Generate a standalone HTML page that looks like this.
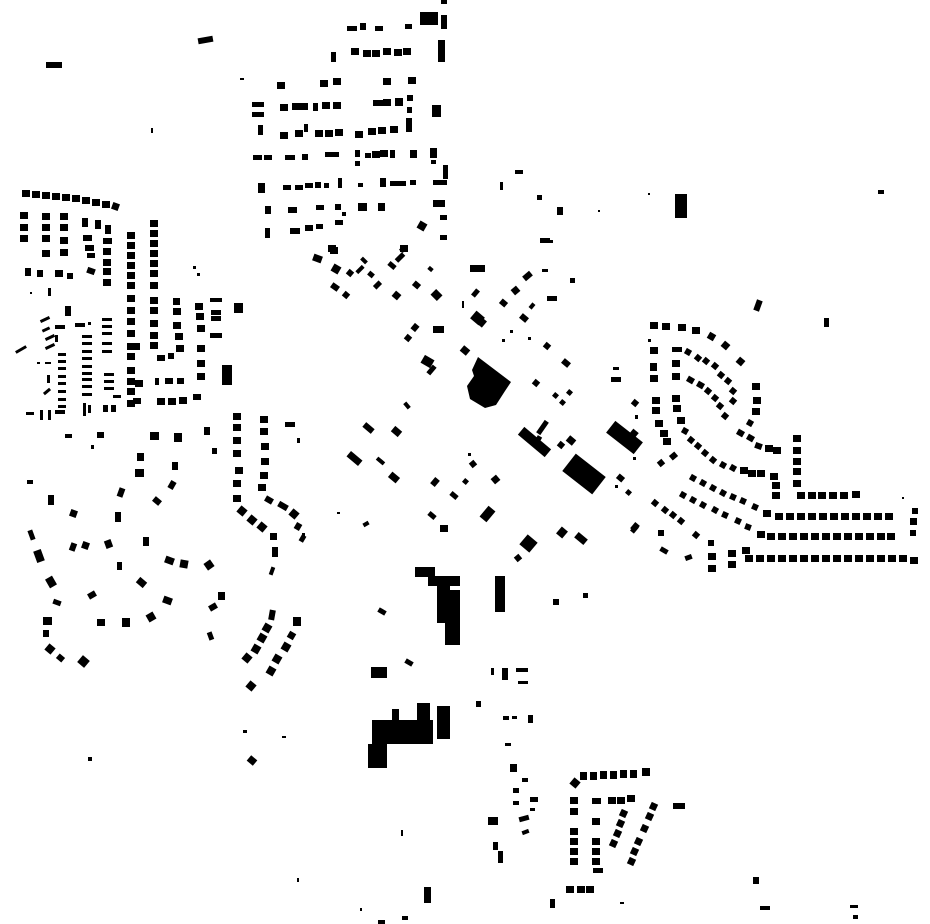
<!DOCTYPE html>
<html><head><meta charset="utf-8"><style>html,body{margin:0;padding:0;background:#fff;width:930px;height:924px;overflow:hidden}svg{display:block}</style></head>
<body>
<svg id="s" width="930" height="924" viewBox="0 0 930 924" xmlns="http://www.w3.org/2000/svg">
<rect width="930" height="924" fill="#fff"/>
<g fill="#000">
<polygon points="478,357 511,382 505,391 496,405 485,408 470,399 467,386 474,376 472,370"/>
<rect x="415" y="567" width="20" height="10"/>
<rect x="428" y="576" width="32" height="10"/>
<rect x="437" y="585" width="13" height="38"/>
<rect x="445" y="590" width="15" height="55"/>
<rect x="372" y="720" width="61" height="24"/>
<rect x="368" y="744" width="19" height="24"/>
<rect x="392" y="709" width="7" height="11"/>
<rect x="417" y="703" width="13" height="20"/>
<rect x="437" y="706" width="13" height="33"/>
</g>
<g id="g" fill="#000"></g>
</svg>
<script>
var D=[
[347,26,10,5],[360,23,6,7],[375,26,8,5],[405,24,7,5],[420,12,18,13],[441,15,6,14],[441,0,6,4],
[351,48],[363,50],[372,50],[383,48],[394,49],[403,48],[438,40,7,22],[331,52,5,10],
[320,80],[333,78],[383,78],[408,77],[277,82],[240,78,4,2],
[252,102,12,5],[252,112,12,5],[280,104],[292,103],[300,103],[313,103,5,8],[322,102],[333,102],[373,100,10,6],[383,99],[395,98,8,8],[407,95,6,6],[407,107,5,6],[432,105,9,12],
[258,125,5,10],[280,132],[295,130],[304,124,4,8],[315,130],[325,130],[335,129],[355,131],[368,128],[378,127],[390,126],[406,118,6,14],
[253,155,9,5],[264,155,8,5],[285,155,10,5],[302,154,6,6],[325,152,10,5],[333,152,6,5],[355,150,5,7],[365,153,6,5],[372,151],[380,150],[390,150,5,8],[355,161,5,5],[410,150,7,8],[430,148,7,10],[431,160,5,4],
[258,183,7,10],[283,185,8,5],[295,185,8,5],[305,183,8,5],[315,182,6,6],[324,183,5,5],[338,178,4,10],[358,183,5,4],[380,178,6,9],[390,181,10,5],[400,181,6,5],[410,180,6,5],[433,180,14,5],[443,165,5,14],
[265,206,6,8],[288,207,9,6],[316,205,8,5],[335,204,6,6],[342,212,4,4],[358,203,9,8],[378,203,7,8],[433,200,12,7],[440,215,7,5],[440,235,7,5],
[265,228,5,10],[290,228,10,6],[305,225,8,6],[316,224,7,5],[335,220,8,5],[418,222,8,8,30],[328,245],[400,245],
[313,255,9,7,20],[330,247,8,7],[332,265,8,8,30],[347,270,6,6,40],[358,265,4,9,45],[362,257,4,7,-45],[368,272,6,5,40],[375,281,5,8,45],[388,263,8,5,40],[395,255,10,5,-45],[400,247,5,5,40],[331,284,8,6,35],[343,292,6,6,40],[393,292,7,7,40],[413,282,7,6,40],[428,267,5,4,40],[432,291,9,8,45],[470,265,15,7],[473,289,5,8,40],[472,313,11,10,40],[480,319,5,8,40],[462,301,2,7],[500,300,7,6,40],[512,287,7,7,-40],[523,273,9,6,-40],[530,303,4,6,40],[520,315,8,6,40],[542,269,6,3],[547,296,10,5],[570,278,5,5],[543,240,10,3],[412,324,6,7,40],[405,335,6,6,40],[433,326,11,7],[461,347,8,7,40],[510,330,3,3],[502,339,3,3],[528,337,3,3],[544,343,6,6,40],[422,357,11,9,30],[429,365,5,10,40],[562,360,8,6,40],[613,367,6,3],[611,377,10,5],[533,380,6,6,40],[553,393,5,5,40],[560,400,5,5,40],[567,390,5,5,40],[405,402,4,7,-40],[363,425,11,6,40],[392,428,9,7,40],[540,420,5,15,35],[536,436,5,6,30],[567,437,8,7,40],[558,442,6,6,40],[632,400,6,6,40],[635,415,3,4],[630,430,7,8,40],[633,457,3,3],[347,455,15,7,40],[376,459,9,4,40],[389,474,10,7,40],[468,453,3,3],[470,461,6,6,-40],[432,478,6,8,40],[463,479,5,5,40],[492,476,7,7,-40],[450,493,8,5,40],[483,507,9,14,40],[428,513,8,5,40],[440,525,8,7],[363,522,6,4,-30],[337,512,3,2],[617,475,7,6,40],[615,485,3,3],[626,490,5,5,40],[632,525,5,8,40],[558,528,8,9,40],[575,535,12,7,40],[522,537,13,13,40],[515,555,6,6,-40],[302,533,3,3],
[517,437,35,10,40],[565,463,38,22,38],[607,430,35,15,38],
[495,576,10,36],[553,599,6,6],[583,593,5,5],[378,609,8,5,30],[405,660,8,5,30],[371,667,16,11],[491,668,3,7],[502,668,6,12],[516,668,12,4],[518,681,10,3],[476,701,5,6],[503,716,6,4],[512,716,5,3],[528,715,5,8],[505,743,6,3],[510,764,7,8],[522,778,6,4],[513,788,6,5],[530,797,8,5],[513,801,6,4],[530,808,5,3],[519,816,10,5,-15],[522,830,7,4,-20],[488,817,10,8],[493,842,5,8],[498,851,5,12],[401,830,2,6],[424,887,7,16],[550,899,5,9],[620,902,4,2],[378,920,7,4],[402,916,6,4],[360,908,2,3],
[580,772,7,8],[590,772,7,8],[600,771,7,8],[610,771,7,8],[620,770,7,8],[630,770,7,8],[642,768,8,8],[571,779,8,8,40],
[570,797],[570,808],[570,828],[570,838],[570,848],[570,858],[592,798,9,6],[592,818],[592,838],[592,848],[592,858],[593,868,10,5],[608,797],[617,797],[627,795],
[620,810,7,7,25],[617,820,7,7,25],[614,830,7,7,25],[610,840,7,7,25],[650,803,7,7,25],[646,813,7,7,25],[641,825,7,7,25],[635,838,7,7,25],[631,848,7,7,25],[628,858,7,7,25],[673,803,12,6],[566,886],[577,886],[586,886],
[26,412,8,3],[40,410,3,10],[48,410,3,10],[55,410,10,4],[83,407,3,9],[88,405,3,8],[103,405,5,7],[111,405,5,7],[135,400,6,4],[158,398,6,4],[170,398,6,4],
[65,434,7,4],[97,432,7,6],[91,445,3,4],[150,432,9,8],[174,433,8,9],[204,427,6,8],[212,448,5,6],
[233,413],[233,424],[233,437],[233,450],[235,467],[233,480],[233,495],[238,507,8,8,40],[248,516,8,8,40],[258,523,8,8,40],[270,533,7,7],[272,547,6,10],[270,567,4,8,20],
[260,416],[260,428],[261,443],[261,458],[260,472],[258,484],[265,497,8,6,30],[278,503,10,6,30],[290,510,8,8,40],[295,523,6,7,30],[300,535,5,7,30],[285,422,10,5],[297,438,3,5],
[137,453,7,8],[135,469,9,8],[172,462,6,8],[169,481,6,8,30],[153,498,8,6,40],[118,488,6,9,20],[115,512,6,10],[27,480,6,4],[48,495,6,10],[70,510,7,7,20],[29,530,5,10,-20],[35,550,8,12,-20],[47,577,8,10,-30],[70,543,6,8,20],[82,542,7,7,20],[105,540,7,8,-20],[143,537,6,9],[117,562,5,8],[165,557,9,7,20],[180,560,8,8,10],[205,561,8,8,-35],[137,579,9,7,40],[88,592,8,6,-30],[53,600,8,5,20],[163,597,9,7,20],[147,613,8,8,-30],[122,618,8,9],[97,619,8,7],[218,592,7,8],[209,604,8,6,-30],[208,632,5,8,-20],[43,617,9,8],[43,630,6,7],[46,645,8,8,40],[57,655,7,6,40],[79,657,9,9,40],
[269,610,6,10,10],[293,617,8,9],[263,624,8,8,30],[258,634,8,8,30],[252,645,8,8,30],[243,654,8,8,40],[288,632,7,7,30],[282,643,8,8,30],[273,655,8,8,30],[267,667,8,8,30],[247,682,8,8,40],
[22,190],[32,191],[42,192],[52,193],[62,194],[72,195],[82,197],[92,199],[102,201],[112,203,7,7,20],
[20,212],[42,213],[60,213],[20,224],[42,224],[60,224],[20,235],[42,235],[60,237],[42,250],[60,249],
[82,218,6,9],[95,220,6,9],[105,225,6,9],[83,235,9,6],[85,245,9,6],[87,253,8,5],[103,238,9,6],[103,248],[103,259],[103,268],[103,279],
[25,268,6,8],[37,270,6,7],[55,270,8,7],[67,273,6,6],[87,268,8,6,20],[48,288,3,8],[30,292,2,2],[65,306,6,10],[193,266,3,3],[197,273,3,3],
[127,232],[127,242],[127,252],[127,262],[127,272],[127,282],[127,295],[127,307],[127,318],[127,330],[127,343],[127,353],[127,367],[127,378],[127,388],[127,400],
[150,220],[150,230],[150,240],[150,250],[150,260],[150,270],[150,282],[150,297],[150,307],[150,320],[150,332],[150,342],
[157,355,8,6],[168,353,6,6],[173,298,7,7],[173,308],[173,322],[175,333],[176,345],
[195,303],[196,313],[197,325],[197,345],[197,360],[197,373],
[210,298,12,4],[211,310,10,5],[211,316,10,5],[210,333,12,5],[234,303,9,5],[234,308,9,5],[222,365,10,20],
[155,378,4,7],[165,378,8,6],[177,378,7,6],[157,398],[168,398],[179,397],[193,394,8,6],[133,398,8,6],[135,380],[132,343],
[40,318,10,3,-25],[42,328,8,3,-25],[45,336,10,3,-25],[45,345,10,3,-25],[15,348,12,3,-30],[55,325,10,4],[75,323,10,4],[88,322,3,3],[55,335,3,7],[37,362,3,2],[45,362,6,2],
[58,353,8,3],[58,360,8,3],[58,367,8,3],[58,375,8,3],[58,382,8,3],[58,390,8,3],[58,398,8,3],[58,405,8,3],
[82,335,10,3],[82,342,10,3],[82,350,10,3],[82,357,10,3],[82,365,10,3],[82,372,10,3],[82,378,10,3],[82,385,10,3],[82,393,10,3],
[102,318,10,3],[102,325,10,3],[102,332,10,3],[102,342,10,3],[102,350,10,3],[104,373,10,3],[104,380,10,3],[104,387,10,3],
[47,375,3,8],[43,390,8,3,-40],[113,395,8,3],[83,403,3,9],
[198,37,15,6,-10],[46,62,16,6],[151,128,2,5],[675,194,12,24],[878,190,6,4],[755,300,6,11,20],[824,318,5,9],[540,238,10,5],[515,170,8,4],[500,182,3,8],[537,195,5,5],[557,207,6,8],[598,210,2,2],[648,193,2,2],
[88,757,4,4],[243,730,4,3],[248,757,8,7,40],[282,736,4,2],[297,878,2,4],[753,877,6,7],[760,906,10,4],[850,905,8,3],[853,915,5,4],
[650,322],[662,323],[678,324],[692,327],[708,333,7,7,30],[722,342,7,7,40],[737,358,7,7,40],[752,383],[753,397],[752,408],[747,420,6,6,30],
[650,347],[650,363,7,8],[650,375],
[672,347,10,5],[685,349,6,6,30],[695,355,6,6,40],[703,358,6,6,40],[712,363,6,6,40],[718,372,6,6,40],[725,378,6,6,40],[730,388,6,6,40],[730,398,6,6,40],
[672,360],[672,373],[687,377,7,6,30],[697,382,7,6,30],[705,388,6,6,40],[712,395,6,6,40],[717,403,6,6,40],[722,413,6,6,40],[737,430,7,6,30],[747,435,7,6,30],[755,443,7,6,20],[765,445],[773,447],
[672,395],[673,405],[677,417],[682,428,6,6,30],[688,437,6,6,40],[695,443,6,6,40],[702,450,6,6,40],[710,457,6,6,40],[720,462,6,6,30],[730,465,6,6,30],[740,467],[748,470],[757,470],[770,473],[772,482],[772,492],
[652,397],[652,407],[655,420],[660,430],[663,438],[670,453,7,6,-40],[658,460,6,6,-40],
[690,475,6,6,30],[700,480,6,6,30],[710,485,6,6,30],[720,490,6,6,30],[730,494,6,6,25],[740,498,6,6,25],[752,504,6,6,25],[763,510],
[793,435],[793,447],[793,458],[793,468],[793,480],[797,492],[808,492],[818,492],[829,492],[840,492],[852,491],
[775,513],[786,513],[797,513],[808,513],[819,513],[830,513],[841,513],[852,513],[863,513],[874,513],[885,513],
[680,492,6,6,30],[690,497,6,6,30],[700,502,6,6,30],[712,507,6,6,30],[722,512,6,6,25],[735,518,6,6,25],[745,524,6,6,20],[757,531],
[767,533],[778,533],[789,533],[800,533],[811,533],[822,533],[833,533],[844,533],[855,533],[866,533],[877,533],[887,533],
[745,555],[756,555],[767,555],[778,555],[789,555],[800,555],[811,555],[822,555],[833,555],[844,555],[855,555],[866,555],[877,555],[888,555],[899,555],[910,557],[742,547],
[708,540,6,6],[708,553],[708,565],[728,550],[728,561],
[652,500,6,6,40],[662,507,6,6,40],[670,512,6,6,40],[678,518,6,6,40],[632,523,6,8,40],[658,530,6,6],[660,548,8,5,30],[685,555,7,5,-20],[693,532,6,6,40],
[912,508,6,6],[910,518,7,7],[910,530,6,6],[902,497,2,2],[648,339,3,3]
];
var g=document.getElementById('g'),h='';
for(var i=0;i<D.length;i++){var d=D[i],x=d[0],y=d[1],w=d[2]||8,hh=d[3]||7,a=d[4]||0;
h+='<rect x="'+x+'" y="'+y+'" width="'+w+'" height="'+hh+'"'+(a?' transform="rotate('+a+' '+(x+w/2)+' '+(y+hh/2)+')"':'')+'/>';}
g.innerHTML=h;
</script>
</body></html>
